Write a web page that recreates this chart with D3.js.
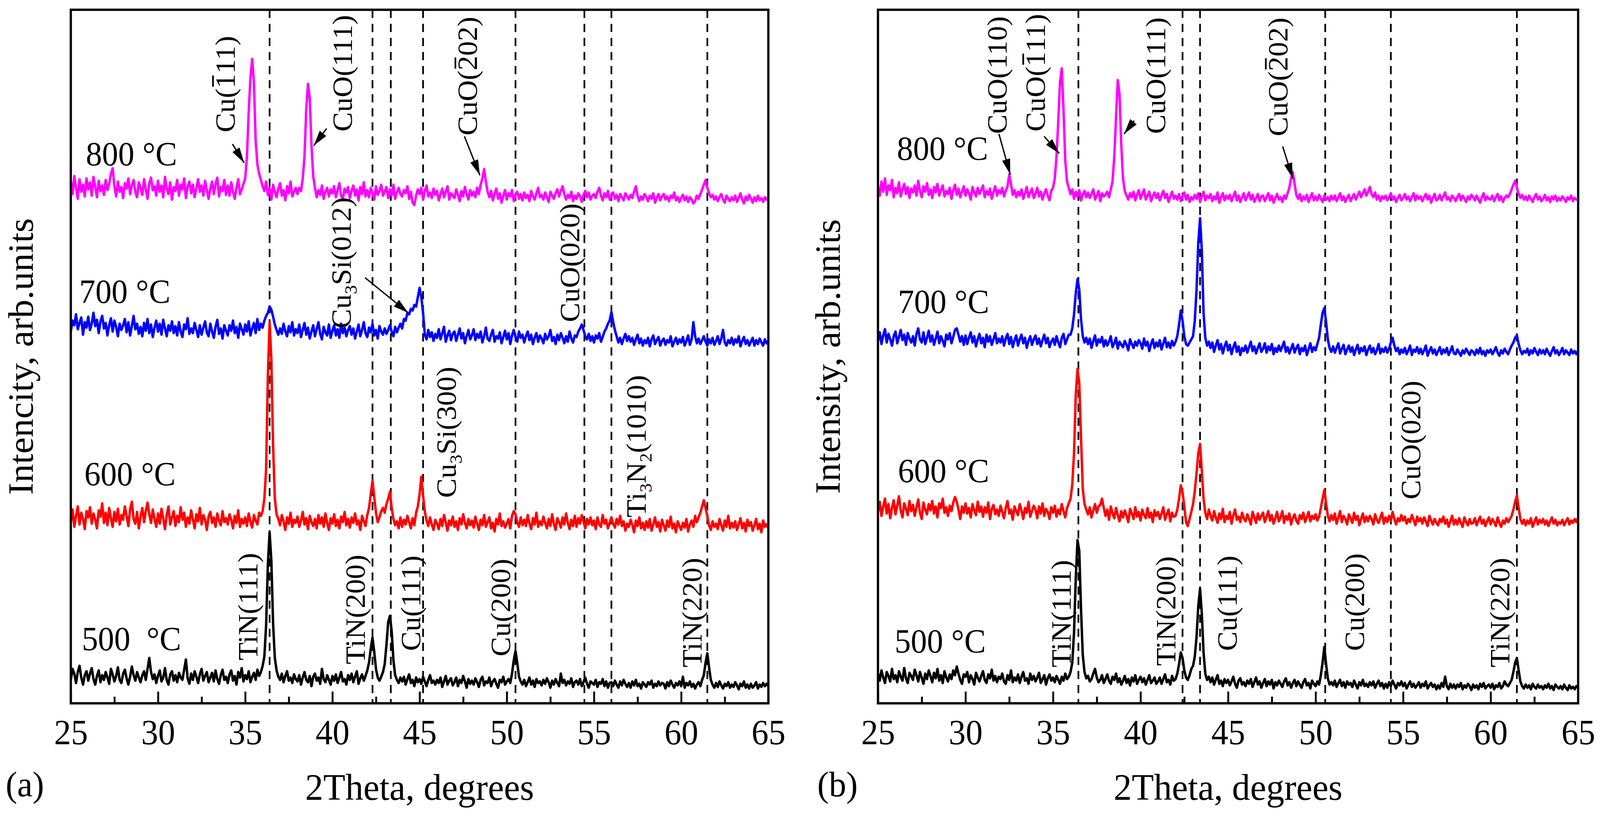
<!DOCTYPE html>
<html>
<head>
<meta charset="utf-8">
<script src="https://cdn.jsdelivr.net/npm/d3@7"></script>
<style>
  html, body { margin: 0; padding: 0; background: #fff; overflow: hidden; }
  svg { display: block; width: 100vw; height: 100vh; }
  text { font-family: "Liberation Serif", "Times New Roman", serif; fill: #000; }
</style>
</head>
<body>
<div id="chart"></div>
<script>
// 2Theta grid, 25..65 deg in 0.1 deg steps
var angles = d3.range(401).map(i => 25 + i / 10);

var majorTicks = [25, 30, 35, 40, 45, 50, 55, 60, 65];
var minorTicks = [27.5, 32.5, 37.5, 42.5, 47.5, 52.5, 57.5, 62.5];

var temperatures = ["500 °C", "600 °C", "700 °C", "800 °C"];
var seriesColors = ["#000000", "#ff0000", "#0000ff", "#ff00ff"];

// (a) intensities as plotted (stacked, arb. units)
var a500 = [
30,44,38,26,40,48,33,24,36,41,
29,38,45,31,24,35,42,27,36,30,
40,33,25,44,37,28,35,46,30,26,
38,43,32,24,34,47,36,29,40,33,
27,36,41,30,44,58,40,31,37,26,
35,42,28,33,45,30,24,37,41,29,
36,27,39,33,30,43,56,32,25,38,
30,41,34,26,37,44,29,35,40,27,
33,39,28,42,31,25,36,43,30,34,
26,37,42,29,35,24,40,33,45,28,
36,31,41,27,34,39,30,43,35,40,
48,60,100,178,219,182,102,58,42,34,
30,38,27,35,41,29,33,26,37,31,
28,36,24,33,40,30,27,35,22,34,
38,29,33,25,44,31,27,36,30,24,
35,29,37,26,33,40,28,31,24,36,
30,38,27,34,41,25,32,37,29,35,
42,52,70,84,66,44,33,29,34,40,
50,75,104,112,92,55,36,30,26,33,
28,34,24,31,37,26,30,22,33,27,
31,25,34,28,22,30,36,26,29,24,
30,26,33,21,28,35,24,29,32,23,
27,33,22,30,26,35,28,20,31,25,
29,24,32,27,21,30,34,23,28,26,
33,22,28,31,25,20,30,27,34,24,
28,31,26,38,55,67,52,34,28,24,
30,22,27,33,24,29,21,31,26,28,
23,30,25,32,27,20,29,24,31,26,
22,38,26,30,23,28,25,32,21,27,
29,24,31,22,27,33,25,20,28,26,
24,30,21,27,25,31,22,28,20,26,
27,22,29,24,20,28,23,30,25,21,
26,20,28,23,30,22,25,19,27,24,
21,27,24,29,20,25,22,28,23,26,
25,19,27,22,29,24,20,26,23,28,
22,34,20,26,23,28,21,25,19,24,
27,22,30,36,52,64,46,30,24,20,
26,21,28,23,19,25,22,27,20,24,
21,27,23,18,25,22,28,20,24,19,
25,20,23,27,19,24,21,26,22,25,
22];

var a600 = [
232,248,226,240,252,229,244,236,223,246,
238,251,230,243,235,224,247,239,256,231,
244,228,250,237,226,245,233,249,229,241,
235,252,240,227,248,258,236,230,245,224,
239,250,232,246,257,242,231,248,236,226,
243,230,249,236,223,241,252,229,238,246,
227,240,232,251,235,244,226,238,230,247,
236,224,242,233,250,229,241,235,222,239,
245,231,238,226,243,234,228,246,232,237,
229,242,235,224,240,231,247,226,236,230,
238,227,243,232,225,241,234,229,244,240,
246,262,300,420,488,440,330,262,242,236,
228,241,233,222,238,230,244,226,235,231,
239,226,234,245,229,237,223,240,232,227,
236,224,241,230,238,226,243,231,222,237,
230,242,227,235,224,239,232,245,228,236,
225,238,231,243,229,234,222,240,233,227,
241,250,268,285,264,244,232,238,246,250,
244,255,262,271,250,236,228,233,224,238,
226,235,229,240,232,224,237,228,244,252,
268,290,266,246,234,227,238,229,222,235,
230,223,236,227,241,232,221,234,228,239,
226,233,222,237,229,242,231,224,236,228,
234,225,239,230,222,235,228,241,226,232,
238,224,231,220,236,229,243,227,233,225,
230,236,224,240,246,242,232,226,238,228,
235,227,241,230,223,237,229,244,226,233,
228,239,231,224,236,227,242,230,222,237,
232,225,238,229,243,231,223,235,227,240,
226,237,230,241,233,224,236,229,238,228,
234,223,238,229,226,241,230,235,224,231,
238,230,225,236,229,240,227,233,221,230,
226,235,228,219,234,227,238,224,231,222,
233,225,236,221,229,238,226,232,220,235,
228,221,234,226,239,224,230,219,233,227,
222,231,225,236,220,229,234,226,240,232,
238,244,252,260,250,240,228,222,233,226,
230,223,236,228,221,234,226,240,224,231,
225,233,222,229,237,224,231,220,235,227,
232,221,228,236,223,230,219,234,226,229,
224];

var a700 = [
476,490,484,498,479,487,494,472,488,481,
495,478,486,500,483,491,474,489,496,480,
487,471,484,493,476,490,482,470,486,478,
484,492,475,488,471,483,496,479,486,473,
482,470,487,477,492,474,485,469,481,490,
476,486,472,491,480,470,484,477,489,474,
483,471,488,476,469,485,479,493,473,480,
474,487,478,469,484,472,481,489,475,470,
486,476,468,482,491,473,480,467,484,477,
471,484,477,490,474,482,468,486,479,472,
485,476,489,471,480,487,474,492,478,486,
481,490,496,500,508,504,495,485,478,472,
480,473,486,476,470,483,475,488,471,479,
474,485,469,478,487,472,481,467,476,484,
470,479,488,473,466,482,475,471,485,468,
477,484,471,479,468,486,474,481,470,478,
483,472,480,467,476,485,470,478,488,474,
469,481,475,486,471,478,467,483,476,472,
480,473,478,484,476,470,482,475,481,486,
480,492,490,500,498,505,503,510,508,520,
532,520,500,472,466,478,469,475,464,473,
468,479,466,474,482,463,471,477,465,473,
476,464,472,480,467,474,461,470,478,466,
471,479,465,473,468,476,462,470,481,467,
464,472,478,463,470,467,475,461,469,477,
466,474,460,471,478,469,463,476,468,472,
462,470,476,465,472,460,468,474,463,471,
467,461,473,466,470,478,464,469,460,472,
465,474,468,461,470,463,476,467,462,471,
469,476,480,485,478,470,466,473,464,470,
462,471,467,474,463,469,476,480,486,490,
501,488,478,470,462,468,460,467,473,464,
470,463,468,459,466,472,461,467,458,465,
461,468,457,466,471,460,465,469,458,464,
467,459,465,462,470,457,463,468,460,466,
462,469,458,464,471,459,466,488,470,461,
467,460,465,470,463,458,466,461,468,459,
464,470,460,467,478,462,458,465,461,468,
459,466,462,470,457,464,469,460,465,458,
463,468,458,465,460,467,462,458,466,461,
464];

var a800 = [
668,652,675,660,646,671,655,664,649,672,
658,667,650,674,661,648,669,656,663,651,
670,657,665,678,685,662,649,668,655,661,
647,666,659,672,652,663,670,655,648,667,
660,651,671,658,646,666,673,657,662,650,
669,655,663,648,674,659,652,667,645,661,
656,670,650,664,658,672,647,662,668,653,
664,648,660,671,655,663,650,669,657,646,
659,668,652,665,673,649,661,656,670,651,
663,650,667,655,646,660,671,652,658,665,
672,700,757,800,825,795,720,690,678,670,
662,656,668,651,660,645,664,655,648,659,
666,650,657,644,662,653,668,649,655,660,
652,660,656,672,700,760,793,775,715,675,
660,648,657,651,663,646,655,660,649,658,
653,662,648,657,666,650,645,659,654,661,
647,656,663,650,658,644,661,652,667,649,
657,648,660,653,645,662,651,656,664,650,
655,661,647,658,650,664,646,654,660,652,
649,657,653,662,646,655,641,638,650,658,
652,660,645,656,663,649,654,647,659,651,
656,644,652,659,648,655,662,645,653,650,
647,658,651,643,656,649,661,652,645,657,
650,655,648,660,652,664,672,684,668,655,
648,656,644,652,659,646,653,641,650,657,
645,653,649,657,643,651,655,646,652,644,
654,647,651,643,656,649,645,653,660,648,
651,645,654,648,642,655,650,646,653,658,
649,656,662,652,645,651,647,655,643,650,
646,653,649,642,651,656,648,654,645,650,
652,647,655,660,650,644,653,648,656,645,
650,654,646,651,643,652,648,644,653,649,
645,651,647,655,662,650,643,649,645,652,
648,643,650,646,653,641,647,652,644,649,
652,645,649,643,650,647,654,644,648,642,
647,651,644,649,642,648,645,640,643,650,
646,652,658,664,670,660,653,648,651,645,
649,643,648,652,645,641,650,646,643,648,
644,650,642,647,653,645,640,649,644,651,
646,641,648,643,650,644,647,642,648,645,
647];

// (b) intensities as plotted (stacked, arb. units)
var b500 = [
38,29,42,33,26,40,35,28,44,31,
36,27,41,34,29,45,32,26,39,35,
30,43,36,28,40,33,25,38,31,42,
35,27,39,32,44,29,36,26,41,33,
28,37,31,42,36,47,38,30,25,37,
34,40,27,36,31,24,39,33,28,35,
41,30,26,37,32,43,29,35,27,34,
31,38,28,25,36,30,42,27,33,29,
37,26,34,40,29,32,25,38,30,35,
28,33,39,26,31,36,24,32,37,29,
33,27,35,30,25,34,29,38,31,34,
40,52,90,160,209,195,120,62,40,32,
35,28,31,38,44,33,27,30,36,26,
31,37,29,25,34,30,38,27,32,24,
29,35,26,31,23,33,28,36,25,30,
34,27,32,24,30,36,26,29,33,25,
28,33,25,31,37,27,30,24,35,29,
31,38,50,65,58,42,33,30,36,44,
48,60,85,125,147,115,65,38,30,34,
27,33,24,30,36,25,29,22,31,26,
30,23,28,34,25,20,29,32,24,27,
22,29,25,31,21,27,33,24,28,20,
26,31,22,28,24,30,19,27,23,29,
25,21,28,32,23,27,20,26,30,22,
28,24,20,27,31,23,26,19,29,25,
22,28,24,36,52,72,50,32,24,27,
23,29,21,26,30,22,27,20,28,24,
26,21,29,24,19,27,23,30,22,25,
21,27,23,28,20,25,29,22,26,19,
25,20,27,22,29,24,19,26,23,28,
22,26,19,24,28,21,25,20,23,27,
20,25,22,28,19,23,26,21,24,18,
23,19,26,21,34,22,18,25,20,24,
19,24,21,26,18,23,20,25,22,17,
24,20,23,18,25,21,26,19,22,24,
20,25,18,23,21,26,19,22,28,24,
22,26,30,40,52,58,42,28,22,19,
24,20,23,18,25,21,19,24,20,22,
18,23,20,25,19,22,17,24,21,19,
22,18,24,20,17,23,19,21,18,22,
20];

var b600 = [
245,258,240,252,262,243,255,237,250,260,
242,253,265,247,238,256,249,241,259,246,
254,240,251,261,244,236,257,248,242,255,
247,259,243,252,238,256,250,262,244,251,
240,253,246,257,264,258,248,236,252,244,
256,243,250,238,255,247,241,258,245,252,
239,251,244,257,236,249,254,242,248,240,
253,245,237,250,259,243,248,235,252,246,
241,255,247,236,250,244,258,239,246,253,
248,237,252,243,256,240,249,245,236,251,
244,253,239,248,242,255,246,238,250,256,
262,280,320,395,428,410,340,275,255,248,
242,251,238,247,255,244,252,254,262,250,
240,248,235,252,243,237,250,241,233,246,
238,247,240,232,249,243,236,251,239,245,
234,248,241,237,250,238,244,232,247,240,
245,236,243,251,235,242,248,233,244,239,
240,248,262,279,270,252,232,227,236,245,
255,272,295,320,332,298,262,244,236,248,
240,234,246,238,231,243,236,249,232,240,
236,245,230,241,248,235,239,232,244,237,
233,242,236,229,245,238,231,243,235,240,
244,232,239,246,234,241,230,237,245,233,
238,246,231,240,235,243,229,237,242,234,
230,241,236,244,232,238,245,233,240,236,
242,234,239,250,262,273,256,240,233,241,
235,243,230,238,246,232,240,236,229,242,
237,231,244,235,240,228,236,243,232,239,
233,240,236,229,242,235,231,238,244,230,
238,232,240,234,245,236,229,237,233,241,
234,239,230,236,232,241,235,228,239,233,
237,230,238,233,227,240,234,229,236,231,
228,236,232,239,230,235,226,233,240,229,
235,229,237,231,226,238,232,228,236,230,
231,237,228,234,239,230,235,227,233,238,
229,236,232,227,238,231,226,234,230,237,
232,236,240,248,258,266,250,236,230,235,
228,234,230,237,226,232,238,229,235,231,
236,229,234,227,233,238,230,235,228,232,
230,235,228,233,237,229,234,231,236,232,
238];

var b700 = [
464,475,460,471,479,462,473,466,458,470,
476,461,469,478,465,472,459,474,467,462,
470,458,473,480,466,462,475,460,468,477,
463,471,459,467,476,461,470,464,457,472,
466,474,461,469,478,480,472,463,470,459,
471,460,468,475,462,470,457,466,473,461,
468,456,472,463,470,459,466,474,461,467,
462,470,458,467,473,460,469,456,465,471,
458,466,472,461,468,455,464,470,459,466,
471,460,467,457,465,472,461,468,456,463,
467,459,470,462,456,468,473,460,466,472,
472,480,498,525,543,530,492,470,462,468,
460,467,455,464,471,458,466,462,469,457,
465,458,463,470,456,461,468,454,463,459,
456,464,459,452,466,460,455,463,458,465,
461,454,467,458,463,451,460,466,455,462,
457,465,453,461,468,456,462,455,464,458,
463,470,485,503,490,470,460,458,462,466,
470,490,530,590,621,580,500,468,458,463,
455,462,450,458,465,453,460,448,457,463,
452,459,447,456,462,450,457,446,455,451,
458,449,456,463,451,457,448,455,461,450,
454,461,449,457,452,460,447,455,450,458,
451,457,463,450,456,448,454,460,449,455,
459,447,455,451,458,446,453,461,450,456,
452,460,468,485,500,506,488,466,455,450,
457,449,455,461,448,454,459,447,453,458,
450,456,446,453,459,448,455,451,457,446,
453,458,449,455,447,452,460,448,454,450,
456,449,454,462,468,458,451,455,447,453,
449,455,447,452,458,446,453,450,456,448,
454,447,452,458,445,451,456,448,453,446,
451,456,447,453,449,455,446,451,457,448,
447,453,449,445,452,448,454,450,446,452,
450,446,453,448,455,447,451,445,452,449,
453,447,451,456,449,445,452,448,454,450,
447,453,458,462,468,471,460,452,447,451,
449,454,446,452,448,455,450,446,453,448,
452,447,454,449,445,451,456,448,452,446,
450,455,447,452,449,446,453,448,451,447,
452];

var b800 = [
662,650,668,655,672,651,663,657,670,648,
660,653,667,649,658,665,652,661,647,659,
654,663,650,669,656,648,662,655,666,651,
658,647,661,654,665,650,657,663,649,656,
652,660,646,657,664,651,659,648,655,662,
650,658,653,645,661,654,649,660,652,657,
663,648,656,651,659,646,655,662,650,657,
653,660,649,656,662,677,665,651,657,648,
655,650,658,646,653,661,648,654,659,647,
652,660,649,655,645,653,658,650,644,656,
660,672,700,745,795,813,760,695,668,660,
652,658,646,655,649,657,644,651,656,648,
654,647,652,658,645,650,656,643,653,649,
651,655,648,658,668,700,750,798,780,715,
672,656,650,645,653,648,655,644,651,657,
646,652,658,645,650,655,643,649,654,647,
653,644,650,656,647,652,642,649,655,646,
650,645,652,643,649,654,645,651,642,648,
645,651,646,653,642,649,655,644,650,647,
652,643,649,645,654,641,648,653,644,650,
646,651,643,649,655,644,650,642,648,653,
644,649,654,645,651,642,647,652,643,649,
650,643,648,653,644,650,641,647,652,645,
648,642,650,646,653,660,672,680,665,651,
646,652,643,649,645,651,642,648,653,644,
649,644,651,646,642,650,645,648,643,650,
645,650,643,648,653,644,649,642,647,651,
643,648,652,645,650,655,648,653,658,650,
655,661,652,648,654,645,650,643,649,646,
650,644,648,653,645,649,642,647,651,644,
647,652,645,649,643,648,653,644,650,646,
649,643,648,652,645,650,641,647,652,644,
646,651,644,649,654,645,648,643,650,647,
643,648,652,644,650,646,642,649,645,651,
648,644,650,645,641,648,653,644,649,646,
645,650,643,648,652,644,649,642,647,650,
648,652,658,664,669,660,652,647,651,645,
649,644,650,646,642,648,652,645,649,643,
646,651,644,648,642,649,645,650,643,647,
644,649,646,642,648,645,650,643,647,645,
646];

// reference lines (2Theta)
var refLinesA = [36.4, 42.3, 43.35, 45.2, 50.5, 54.45, 56.0, 61.5];
var refLinesB = [36.45, 42.4, 43.4, 50.55, 54.3, 61.5];

// peak labels: "_3" = subscript, "~1~" = overbar
var peakLabelsA = [
  {t: "Cu(~1~11)",      x: 34.40, y: 731},
  {t: "CuO(111)",       x: 41.13, y: 732},
  {t: "CuO(~2~02)",     x: 48.30, y: 727},
  {t: "Cu_3Si(012)",    x: 41.05, y: 480},
  {t: "CuO(020)",       x: 54.16, y: 488},
  {t: "Cu_3Si(300)",    x: 47.07, y: 263},
  {t: "Ti_3N_2(1010)",  x: 57.96, y: 238},
  {t: "TiN(111)",       x: 35.71, y: 55},
  {t: "TiN(200)",       x: 41.87, y: 50},
  {t: "Cu(111)",        x: 45.05, y: 67},
  {t: "Cu(200)",        x: 50.20, y: 60},
  {t: "TiN(220)",       x: 61.18, y: 46}
];
var peakLabelsB = [
  {t: "CuO(110)",       x: 32.36, y: 729},
  {t: "CuO(~1~11)",     x: 34.54, y: 732},
  {t: "CuO(111)",       x: 41.40, y: 729},
  {t: "CuO(~2~02)",     x: 48.40, y: 726},
  {t: "CuO(020)",       x: 55.98, y: 261},
  {t: "TiN(111)",       x: 36.00, y: 46},
  {t: "TiN(200)",       x: 41.99, y: 48},
  {t: "Cu(111)",        x: 45.50, y: 67},
  {t: "Cu(200)",        x: 52.77, y: 67},
  {t: "TiN(220)",       x: 61.08, y: 46}
];

// arrows [x1, y1, x2, y2] in (2Theta, intensity)
var arrowsA = [
  [34.27, 716, 34.94, 692],
  [39.67, 736, 38.93, 714],
  [47.57, 726, 48.46, 676],
  [41.87, 545, 44.35, 500]
];
var arrowsB = [
  [31.91, 729, 32.56, 677],
  [34.49, 726, 35.36, 704],
  [39.64, 746, 39.06, 729],
  [48.12, 713, 48.70, 672]
];

// temperature label anchors (2Theta, intensity)
var tempPosA = [[25.63, 68], [25.78, 279], [25.48, 513], [25.86, 689]];
var tempPosB = [[25.95, 65], [26.14, 283], [26.14, 500], [26.08, 696]];

var W = 4248, H = 2091;
var plotTop = 25, plotBottom = 1800;
var labelSize = 75;

// fill the browser window exactly, whatever its size
var svg = d3.select("#chart").append("svg")
  .attr("viewBox", `0 0 ${W} ${H}`)
  .attr("preserveAspectRatio", "none");

var defs = svg.append("defs");
defs.append("marker")
  .attr("id", "arrowhead")
  .attr("markerUnits", "userSpaceOnUse")
  .attr("viewBox", "0 0 40 22")
  .attr("refX", 40).attr("refY", 11)
  .attr("markerWidth", 40).attr("markerHeight", 22)
  .attr("orient", "auto")
  .append("path")
  .attr("d", "M0,0 L40,11 L0,22 Z")
  .attr("fill", "#000");

var yScale = d3.scaleLinear().domain([0, 888]).range([plotBottom, plotTop]);

// builds "Cu_3Si(012)" style labels; returns char indexes needing an overbar
function richText(sel, str) {
  var parts = str.split(/(_\d|~\d~)/).filter(s => s.length);
  var shifted = false, idx = 0, bars = [];
  parts.forEach(p => {
    var ts;
    if (p[0] === "_") {
      sel.append("tspan").attr("font-size", "0.62em").attr("dy", 16).text(p[1]);
      shifted = true;
      idx += 1;
      return;
    } else if (p[0] === "~") {
      ts = sel.append("tspan").text(p[1]);
      bars.push(idx);
      idx += 1;
    } else {
      ts = sel.append("tspan").text(p);
      idx += p.length;
    }
    if (shifted) { ts.attr("dy", -16); shifted = false; }
  });
  return bars;
}

function drawPanel(cfg) {
  var xScale = d3.scaleLinear().domain([25, 65]).range([cfg.left, cfg.right]);
  var g = svg.append("g");

  // dashed reference lines
  g.selectAll(".ref")
    .data(cfg.refs)
    .enter().append("line")
    .attr("x1", d => xScale(d)).attr("x2", d => xScale(d))
    .attr("y1", plotTop).attr("y2", plotBottom)
    .attr("stroke", "#000")
    .attr("stroke-width", 4.5)
    .attr("stroke-dasharray", "21,15");

  // spectra
  var line = d3.line()
    .x(d => xScale(d[0]))
    .y(d => yScale(d[1]));

  cfg.series.forEach((s, i) => {
    g.append("path")
      .datum(angles.map((a, k) => [a, s[k]]))
      .attr("d", line)
      .attr("fill", "none")
      .attr("stroke", seriesColors[i])
      .attr("stroke-width", 6.5)
      .attr("stroke-linejoin", "round");
  });

  // axis ticks (inside)
  var major = d3.axisBottom(xScale)
    .tickValues(majorTicks)
    .tickSizeInner(-30)
    .tickSizeOuter(0)
    .tickFormat(d3.format("d"));
  var axisG = g.append("g")
    .attr("transform", `translate(0, ${plotBottom})`)
    .call(major);
  axisG.select(".domain").remove();
  axisG.selectAll(".tick line").attr("stroke", "#000").attr("stroke-width", 5);
  axisG.selectAll(".tick text")
    .attr("y", 105).attr("dy", null)
    .attr("font-size", 90)
    .style("font-family", "'Liberation Serif', 'Times New Roman', serif");

  var minor = d3.axisBottom(xScale)
    .tickValues(minorTicks)
    .tickSizeInner(-17)
    .tickSizeOuter(0)
    .tickFormat("");
  var minorG = g.append("g")
    .attr("transform", `translate(0, ${plotBottom})`)
    .call(minor);
  minorG.select(".domain").remove();
  minorG.selectAll(".tick line").attr("stroke", "#000").attr("stroke-width", 5);

  // frame
  g.append("rect")
    .attr("x", cfg.left).attr("y", plotTop)
    .attr("width", cfg.right - cfg.left)
    .attr("height", plotBottom - plotTop)
    .attr("fill", "none")
    .attr("stroke", "#000")
    .attr("stroke-width", 6);

  // temperature labels
  g.selectAll(".temp")
    .data(cfg.temps)
    .enter().append("text")
    .attr("x", (d, i) => xScale(cfg.tempPos[i][0]))
    .attr("y", (d, i) => yScale(cfg.tempPos[i][1]))
    .attr("font-size", 86)
    .style("white-space", "pre")
    .text(d => d);

  // peak labels (rotated), with overbars drawn as short lines
  cfg.labels.forEach(l => {
    var lg = g.append("g")
      .attr("transform", `translate(${xScale(l.x)}, ${yScale(l.y)}) rotate(-90)`);
    var t = lg.append("text").attr("font-size", labelSize);
    var bars = richText(t, l.t);
    bars.forEach(ci => {
      var ext = t.node().getExtentOfChar(ci);
      lg.append("line")
        .attr("x1", ext.x + ext.width * 0.12)
        .attr("x2", ext.x + ext.width * 0.88)
        .attr("y1", -0.77 * labelSize)
        .attr("y2", -0.77 * labelSize)
        .attr("stroke", "#000")
        .attr("stroke-width", 4.5);
    });
  });

  // arrows
  g.selectAll(".arrow")
    .data(cfg.arrows)
    .enter().append("line")
    .attr("x1", d => xScale(d[0])).attr("y1", d => yScale(d[1]))
    .attr("x2", d => xScale(d[2])).attr("y2", d => yScale(d[3]))
    .attr("stroke", "#000")
    .attr("stroke-width", 3.5)
    .attr("marker-end", "url(#arrowhead)");

  // y axis title
  var midY = (plotTop + plotBottom) / 2;
  g.append("text")
    .attr("transform", `translate(${cfg.left - 101}, ${midY}) rotate(-90)`)
    .attr("text-anchor", "middle")
    .attr("font-size", 95)
    .text(cfg.yTitle);

  // x axis title
  g.append("text")
    .attr("x", (cfg.left + cfg.right) / 2)
    .attr("y", 2047)
    .attr("text-anchor", "middle")
    .attr("font-size", 96)
    .text("2Theta, degrees");

  // panel letter
  g.append("text")
    .attr("x", cfg.letterX)
    .attr("y", 2038)
    .attr("font-size", 92)
    .text(cfg.letter);
}

drawPanel({
  left: 188, right: 2040,
  series: [a500, a600, a700, a800],
  refs: refLinesA,
  labels: peakLabelsA,
  arrows: arrowsA,
  temps: ["500  °C", temperatures[1], temperatures[2], temperatures[3]],
  tempPos: tempPosA,
  yTitle: "Intencity, arb.units",
  letter: "(a)", letterX: 15
});

drawPanel({
  left: 2331, right: 4190,
  series: [b500, b600, b700, b800],
  refs: refLinesB,
  labels: peakLabelsB,
  arrows: arrowsB,
  temps: temperatures,
  tempPos: tempPosB,
  yTitle: "Intensity, arb.units",
  letter: "(b)", letterX: 2170
});
</script>
</body>
</html>
